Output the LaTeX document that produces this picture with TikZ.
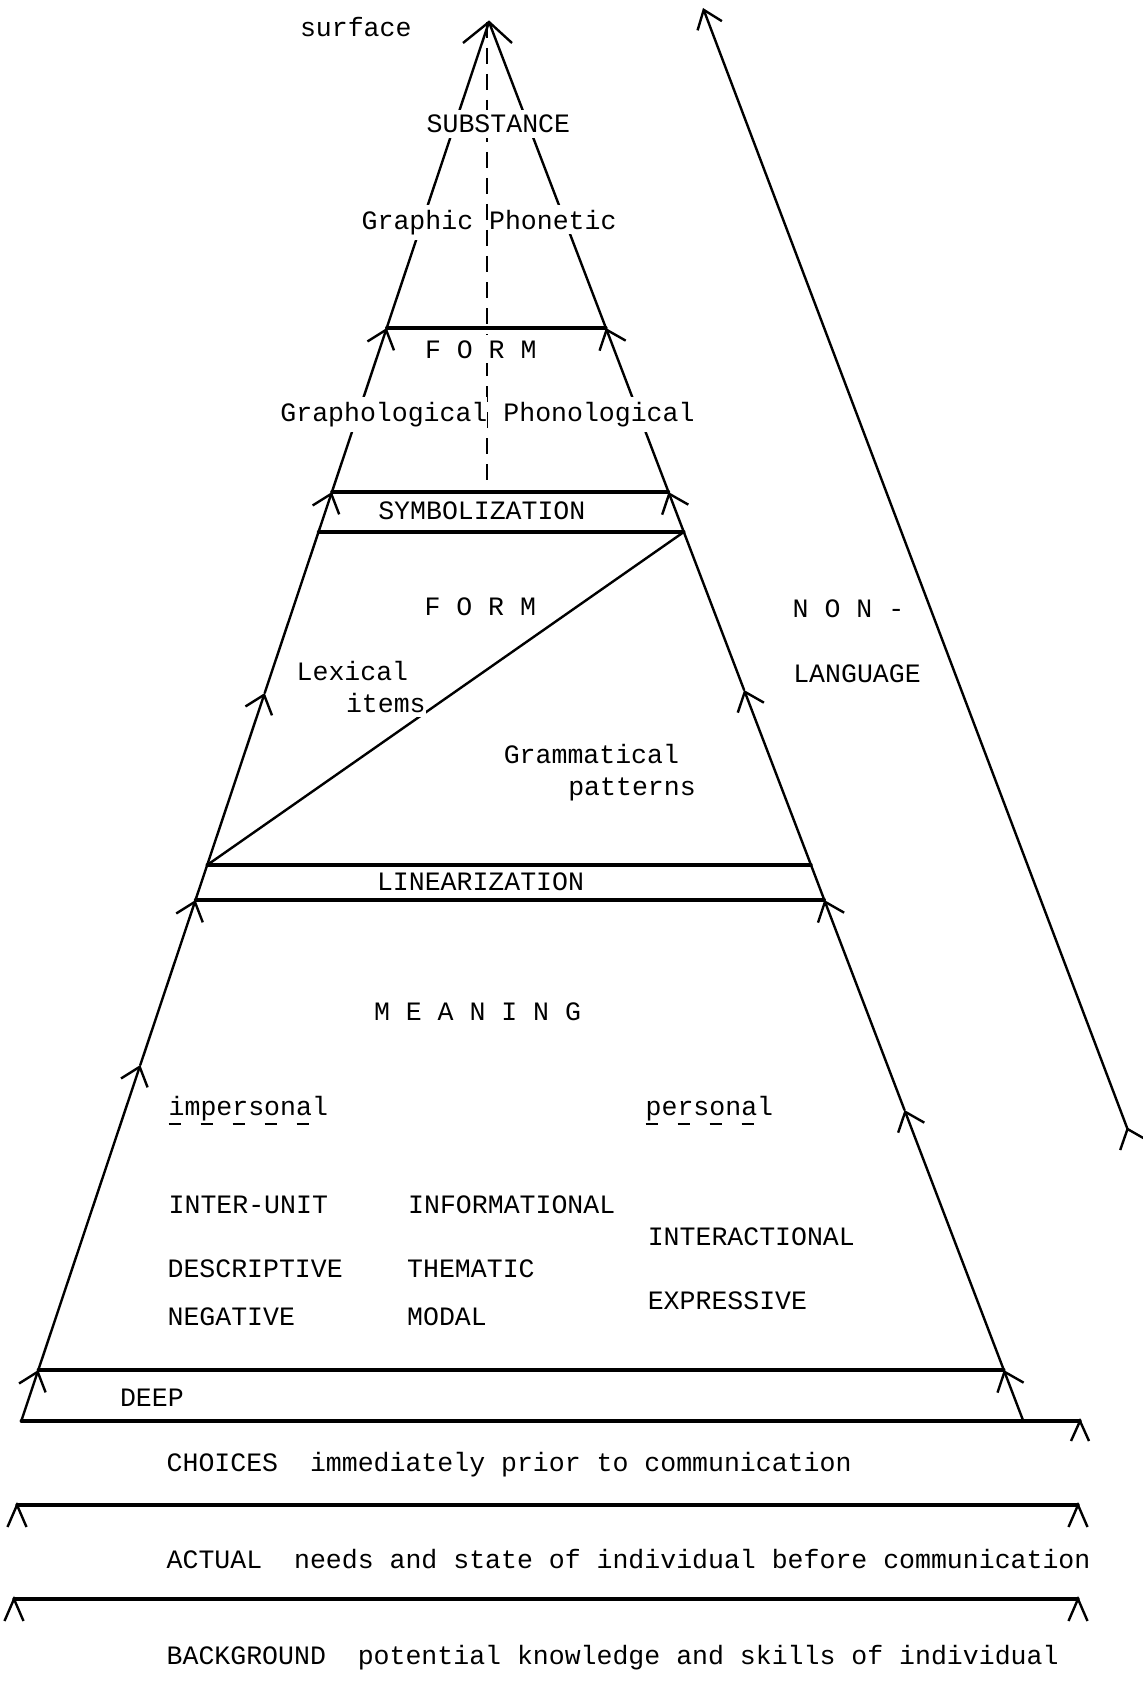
\documentclass[tikz,border=0pt]{standalone}
\usepackage{fontspec}
\setmonofont{Liberation Mono}
\usetikzlibrary{arrows.meta}
\begin{document}
\begin{tikzpicture}[x=0.5pt,y=-0.5pt,
  every node/.style={inner sep=0pt, outer sep=0pt, font=\ttfamily\fontsize{13.27}{16}\selectfont},
  lbl/.style={anchor=base west, fill=white, inner xsep=0pt, inner ysep=2.5pt},
  edge/.style={line width=1.2pt, line cap=round, line join=round},
  bar/.style={line width=1.7pt, line cap=round},
  upar/.style={edge, -{Straight Barb[length=8.5pt,width=14pt]}},
  caret/.style={line width=1.2pt, line join=miter},
  uline/.style={line width=1.1pt, dash pattern=on 6pt off 10pt},
]
\useasboundingbox (0,0) rectangle (1143,1685);
% pyramid points
\coordinate (apex) at (489,22);
\coordinate (l0) at (21.3,1421);
\coordinate (l1) at (38.3,1370);
\coordinate (l2) at (140.3,1065);
\coordinate (l3) at (195.5,900);
\coordinate (l4) at (207.2,865);
\coordinate (l5) at (264.7,693);
\coordinate (l6) at (318.5,532);
\coordinate (l7) at (331.9,492);
\coordinate (l8) at (386.7,328);
\coordinate (r0) at (1023.3,1421);
\coordinate (r1) at (1003.8,1370);
\coordinate (r2) at (904.5,1110);
\coordinate (r3) at (824.3,900);
\coordinate (r4) at (811,865);
\coordinate (r5) at (744.1,690);
\coordinate (r6) at (683.8,532);
\coordinate (r7) at (668.5,492);
\coordinate (r8) at (605.9,328);
% dashed centre line
\coordinate (dtop) at (487,22);
\coordinate (dbot) at (487,484);
\draw[line width=1.2pt, dash pattern=on 8pt off 5pt] (dtop) -- (dbot);
% left edge
\draw[upar] (l0) -- (l1);
\draw[upar] (l1) -- (l2);
\draw[upar] (l2) -- (l3);
\draw[edge] (l3) -- (l4);
\draw[upar] (l4) -- (l5);
\draw[edge] (l5) -- (l6);
\draw[upar] (l6) -- (l7);
\draw[upar] (l7) -- (l8);
\draw[edge] (l8) -- (apex);
% right edge
\draw[upar] (r0) -- (r1);
\draw[upar] (r1) -- (r2);
\draw[upar] (r2) -- (r3);
\draw[edge] (r3) -- (r4);
\draw[upar] (r4) -- (r5);
\draw[edge] (r5) -- (r6);
\draw[upar] (r6) -- (r7);
\draw[upar] (r7) -- (r8);
\draw[edge] (r8) -- (apex);
% apex tip
\draw[caret] (463,43) -- (apex) -- (512,43);
% bars
\draw[bar] (l8) -- (r8);
\draw[bar] (l7) -- (r7);
\draw[bar] (l6) -- (r6);
\draw[bar] (l4) -- (r4);
\draw[bar] (l3) -- (r3);
\draw[bar] (l1) -- (r1);
\coordinate (deepend) at (1080,1421);
\draw[bar] (l0) -- (deepend);
\draw[caret] (1071,1441) -- (deepend) -- (1089,1441);
% diagonal
\draw[edge] (r6) -- (l4);
% long right arrow
\coordinate (nlb) at (1127.5,1129);
\coordinate (nlt) at (703,8);
\draw[edge, -{Straight Barb[length=8.5pt,width=13pt]}] (nlb) -- (nlt);
\draw[caret] (1120.2,1150) -- (nlb) -- (1145,1139);
% bottom lines
\coordinate (a1) at (17,1505);
\coordinate (a2) at (1078,1505);
\draw[bar] (a1) -- (a2);
\draw[caret] (7.5,1527) -- (a1) -- (26.5,1527);
\draw[caret] (1068.5,1527) -- (a2) -- (1087.5,1527);
\coordinate (b1) at (14,1599);
\coordinate (b2) at (1078,1599);
\draw[bar] (b1) -- (b2);
\draw[caret] (4.5,1621) -- (b1) -- (23.5,1621);
\draw[caret] (1068.5,1621) -- (b2) -- (1087.5,1621);
% texts
\node[lbl] (tsurf) at (300,37) {surface};
\node[lbl] (tsubst) at (426.7,133) {SUBSTANCE};
\node[lbl] (tgraphic) at (361.7,229) {Graphic};
\node[lbl] (tphonetic) at (489.1,229) {Phonetic};
\node[lbl] (tform1) at (425,358) {F O R M};
\node[lbl] (tgrapho) at (280.4,421.5) {Graphological};
\node[lbl] (tphono) at (503.4,421.5) {Phonological};
\node[lbl] (tsymb) at (378.3,519.5) {SYMBOLIZATION};
\node[lbl] (tform2) at (424.5,615) {F O R M};
\node[lbl] (tlex) at (296.7,680) {Lexical};
\node[lbl] (titems) at (346,712) {items};
\node[lbl] (tgram) at (503.8,763) {Grammatical};
\node[lbl] (tpatt) at (568.3,795) {patterns};
\node[lbl] (tnon) at (792.7,617) {N O N -};
\node[lbl] (tlang) at (793.3,682) {LANGUAGE};
\node[lbl] (tlin) at (377,890) {LINEARIZATION};
\node[lbl] (tmean) at (374,1020) {M E A N I N G};
\node[lbl] (timp) at (168.7,1115) {impersonal};
\node[lbl] (tpers) at (645.7,1115) {personal};
\draw[uline] (168.7,1124) -- (322,1124);
\draw[uline] (645.7,1124) -- (756,1124);
\node[lbl] (tinter) at (168.7,1213) {INTER-UNIT};
\node[lbl] (tinfo) at (408.2,1213) {INFORMATIONAL};
\node[lbl] (tinteract) at (647.8,1245.6) {INTERACTIONAL};
\node[lbl] (tdesc) at (167.6,1277) {DESCRIPTIVE};
\node[lbl] (tthem) at (407.2,1277) {THEMATIC};
\node[lbl] (texpr) at (647.8,1309) {EXPRESSIVE};
\node[lbl] (tneg) at (167.6,1325) {NEGATIVE};
\node[lbl] (tmodal) at (407.2,1325) {MODAL};
\node[lbl] (tdeep) at (120,1406) {DEEP};
\node[lbl] (tchoices) at (166.7,1471) {CHOICES\ \ immediately prior to communication};
\node[lbl] (tactual) at (166.7,1568) {ACTUAL\ \ needs and state of individual before communication};
\node[lbl] (tback) at (166.7,1664.5) {BACKGROUND\ \ potential knowledge and skills of individual};
\end{tikzpicture}
\end{document}
